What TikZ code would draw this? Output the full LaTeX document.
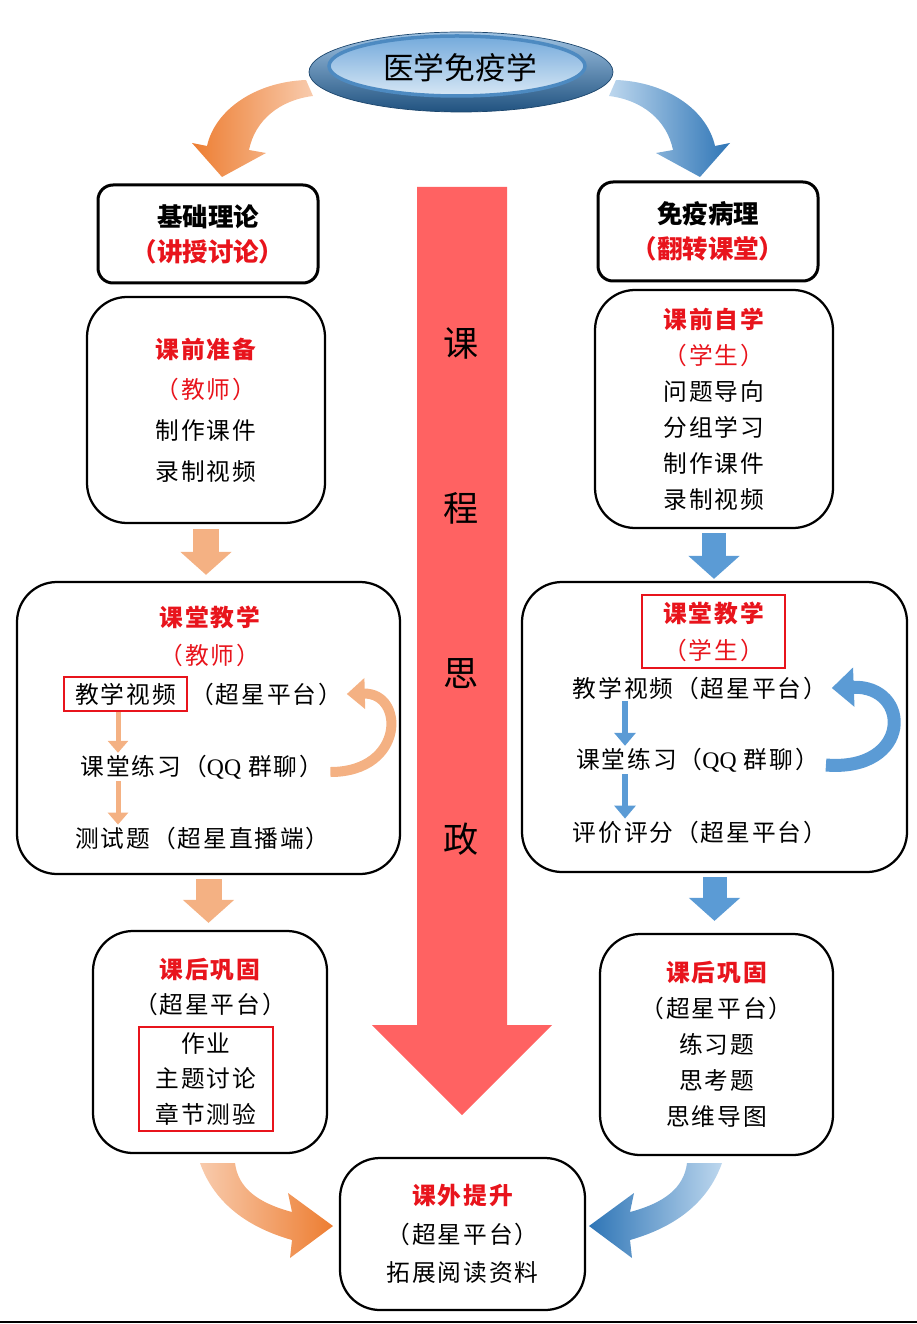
\documentclass[tikz,border=0pt]{standalone}
\usepackage{fontspec}
\setmainfont{Liberation Serif}
\newfontfamily\cjk[LetterSpace=8]{Noto Sans CJK SC}
\newfontfamily\cjkn{Noto Sans CJK SC}
\usetikzlibrary{shapes.geometric,arrows.meta,positioning}
\definecolor{hred}{HTML}{E8141C}
\definecolor{orl}{HTML}{F4B183}
\definecolor{ord}{HTML}{ED7D31}
\definecolor{orp}{HTML}{F8CBAD}
\definecolor{blm}{HTML}{5B9BD5}
\definecolor{bld}{HTML}{2E75B6}
\definecolor{blp}{HTML}{BDD7EE}
\definecolor{sza}{HTML}{FF6262}

\begin{document}
\begin{tikzpicture}[
    txt/.style={font=\cjk\fontsize{13.5pt}{20.5pt}\selectfont, align=center, inner sep=1pt},
    bigbox/.style={draw, line width=0.06cm, rounded corners=0.3cm},
    box/.style={draw, line width=0.045cm, rounded corners=0.8cm},
    redframe/.style={draw=hred, line width=0.05cm},
    blockL/.style={orl, line width=0.52cm, -{Triangle[width=1cm,length=0.46cm]}},
    blockR/.style={blm, line width=0.48cm, -{Triangle[width=1cm,length=0.46cm]}},
    smallL/.style={orl, line width=0.1cm, -{Triangle[width=0.4cm,length=0.24cm]}},
    smallR/.style={blm, line width=0.12cm, -{Triangle[width=0.42cm,length=0.26cm]}},
  ]
  \useasboundingbox (0,0) rectangle (18.34,-26.48);

  % Course thinking arrow
  \fill[sza] (8.34,-3.74) -- (10.14,-3.74) -- (10.14,-20.5) -- (11.04,-20.5) --
    (9.24,-22.3) -- (7.44,-20.5) -- (8.34,-20.5) -- cycle;
  \foreach \t [count=\i] in {课,程,思,政} {
    \node[font=\cjkn\fontsize{20pt}{20pt}\selectfont] (sz\i) at (9.22,{-6.86-3.31*(\i-1)}) {\t};
  }

  % Top arrows
  \shade[left color=ord, right color=orp] (6.12,-1.6) .. controls (5.1,-1.64) and (4.3,-2.2) .. (4.14,-2.92) --
    (3.84,-2.86) -- (4.44,-3.54) -- (5.32,-3.06) -- (4.98,-3.0) .. controls (5.1,-2.4) and (5.6,-2.0) .. (6.26,-1.92) -- cycle;
  \shade[left color=blp, right color=bld] (12.32,-1.6) .. controls (13.34,-1.64) and (14.14,-2.2) .. (14.3,-2.92) --
    (14.6,-2.86) -- (14.0,-3.54) -- (13.12,-3.06) -- (13.46,-3.0) .. controls (13.34,-2.4) and (12.84,-2.0) .. (12.18,-1.92) -- cycle;

  % Top ellipse
  \shade[top color=blp!80!bld, bottom color=bld!70!black, draw=bld!60!black, line width=0.4pt] (9.22,-1.44) ellipse (3.04cm and 0.8cm);
  \shade[top color=blm!85!white, bottom color=blp!60!white, draw=bld!85!white, line width=0.07cm] (9.14,-1.32) ellipse (2.56cm and 0.6cm);
  \node[font=\cjkn\fontsize{17.5pt}{17.5pt}\selectfont] (top) at (9.2,-1.36) {医学免疫学};

  % Header boxes
  \node[bigbox, minimum width=4.4cm, minimum height=1.96cm, align=center,
    font=\cjkn\bfseries\fontsize{14.5pt}{20pt}\selectfont] (tl) at (4.16,-4.68)
    {基础理论\\\textcolor{hred}{（讲授讨论）}};
  \node[bigbox, minimum width=4.4cm, minimum height=1.98cm, align=center,
    font=\cjkn\bfseries\fontsize{14.5pt}{20pt}\selectfont] (tr) at (14.16,-4.63)
    {免疫病理\\\textcolor{hred}{（翻转课堂）}};

  % Left column
  \node[box, txt, minimum width=4.76cm, minimum height=4.52cm,
    font=\cjk\fontsize{13.5pt}{23.2pt}\selectfont] (l1) at (4.12,-8.2)
    {\textcolor{hred}{\bfseries 课前准备}\\\textcolor{hred}{（教师）}\\制作课件\\录制视频};
  \node[box, minimum width=7.66cm, minimum height=5.84cm] (l2) at (4.17,-14.56) {};
  \node[txt, text=hred, font=\cjk\bfseries\fontsize{13.5pt}{20pt}\selectfont] (l2h) at (4.2,-12.34) {课堂教学};
  \node[txt, text=hred] (l2p) at (4.2,-13.1) {（教师）};
  \node[txt, redframe, minimum width=2.46cm, minimum height=0.68cm] (lvid) at (2.51,-13.88) {教学视频};
  \node[txt, right=0pt of lvid] (lplat) {（超星平台）};
  \node[txt] (lpra) at (4.04,-15.34) {课堂练习（{\rmfamily QQ} 群聊）};
  \node[txt] (ltest) at (4.05,-16.76) {测试题（超星直播端）};
  \coordinate (lx) at (2.36,-14);
  \draw[smallL] (lvid.south -| lx) -- (lpra.north -| lx);
  \draw[smallL] (lpra.south -| lx) -- (ltest.north -| lx);
  \draw[orl, line width=0.2cm, -{Triangle[width=0.6cm,length=0.36cm]}]
    ([shift={(0.1,-0.1)}]lpra.east) .. controls (8.1,-15.44) and (8.1,-13.85) .. ([xshift=0.05cm]lplat.east);
  \node[box, minimum width=4.68cm, minimum height=4.44cm] (l3) at (4.2,-20.84) {};
  \node[txt, font=\cjk\fontsize{13.5pt}{20.4pt}\selectfont] (l3h) at (4.2,-19.74)
    {\textcolor{hred}{\bfseries 课后巩固}\\（超星平台）};
  \node[txt, redframe, minimum width=2.68cm, minimum height=2.08cm,
    font=\cjk\fontsize{13.5pt}{20.4pt}\selectfont] (l3list) at (4.12,-21.58) {作业\\主题讨论\\章节测验};
  \draw[blockL, shorten <=0.1cm, shorten >=0.12cm] (l1.south) -- (l1.south |- l2.north);
  \draw[blockL, shorten <=0.08cm, shorten >=0.14cm] (l2.south) -- (l2.south |- l3.north);

  % Right column
  \node[box, txt, minimum width=4.76cm, minimum height=4.76cm,
    font=\cjk\fontsize{13.5pt}{20.5pt}\selectfont] (r1) at (14.28,-8.18)
    {\textcolor{hred}{\bfseries 课前自学}\\\textcolor{hred}{（学生）}\\问题导向\\分组学习\\制作课件\\录制视频};
  \node[box, minimum width=7.7cm, minimum height=5.8cm] (r2) at (14.29,-14.54) {};
  \node[txt, redframe, minimum width=2.86cm, minimum height=1.46cm,
    font=\cjk\fontsize{13.5pt}{21pt}\selectfont] (r2h) at (14.27,-12.63)
    {\textcolor{hred}{\bfseries 课堂教学}\\\textcolor{hred}{（学生）}};
  \node[txt] (rvid) at (14.0,-13.76) {教学视频（超星平台）};
  \node[txt] (rpra) at (13.95,-15.2) {课堂练习（{\rmfamily QQ} 群聊）};
  \node[txt] (reval) at (14.0,-16.64) {评价评分（超星平台）};
  \coordinate (rx) at (12.5,-14);
  \draw[smallR] (rvid.south -| rx) -- (rpra.north -| rx);
  \draw[smallR] (rpra.south -| rx) -- (reval.north -| rx);
  \draw[blm, line width=0.26cm, -{Triangle[width=0.76cm,length=0.44cm]}]
    ([shift={(0.1,-0.1)}]rpra.east) .. controls (18.24,-15.44) and (18.24,-13.7) .. ([xshift=0.05cm]rvid.east);
  \node[box, txt, minimum width=4.66cm, minimum height=4.42cm,
    font=\cjk\fontsize{13.5pt}{20.4pt}\selectfont] (r3) at (14.33,-20.89)
    {\textcolor{hred}{\bfseries 课后巩固}\\（超星平台）\\练习题\\思考题\\思维导图};
  \draw[blockR, shorten <=0.08cm, shorten >=0.04cm] (r1.south) -- (r1.south |- r2.north);
  \draw[blockR, shorten <=0.08cm, shorten >=0.24cm] (r2.south) -- (r2.south |- r3.north);

  % Bottom
  \node[box, txt, minimum width=4.9cm, minimum height=3.04cm,
    font=\cjk\fontsize{13.5pt}{22pt}\selectfont] (bt) at (9.25,-24.68)
    {\textcolor{hred}{\bfseries 课外提升}\\（超星平台）\\拓展阅读资料};
  \shade[left color=orp, right color=ord] (4.0,-23.26) .. controls (4.3,-24.1) and (5.0,-24.56) .. (5.84,-24.8) --
    (5.8,-25.16) -- (6.66,-24.52) -- (5.76,-23.86) -- (5.84,-24.24) .. controls (5.16,-24.06) and (4.76,-23.76) .. (4.7,-23.26) -- cycle;
  \shade[left color=bld, right color=blp] (14.44,-23.26) .. controls (14.14,-24.1) and (13.44,-24.56) .. (12.6,-24.8) --
    (12.64,-25.16) -- (11.78,-24.52) -- (12.68,-23.86) -- (12.6,-24.24) .. controls (13.28,-24.06) and (13.68,-23.76) .. (13.74,-23.26) -- cycle;
  \draw[line width=0.03cm] (0,-26.44) -- (18.34,-26.44);
\end{tikzpicture}
\end{document}
